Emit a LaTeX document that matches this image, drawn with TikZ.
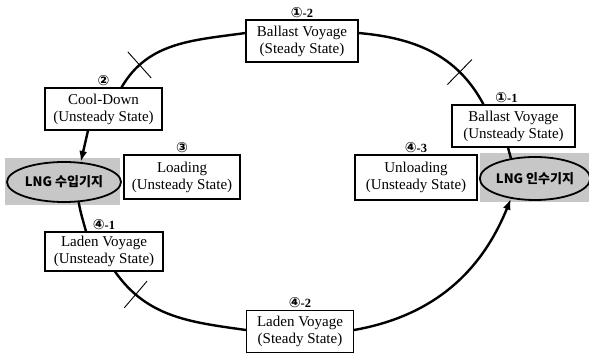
\documentclass[tikz,border=0pt]{standalone}
\usepackage{fontspec}
\setmainfont{Liberation Serif}
\newfontfamily\circfont{DejaVu Sans}
\newfontfamily\kfont{Noto Sans CJK KR}
\usetikzlibrary{positioning, shapes.geometric, arrows.meta}
\newcommand\cnum[1]{{\circfont\fontsize{14}{14}\selectfont #1}}
\tikzset{
  state/.style={draw, line width=1.1pt, fill=white, align=center, inner sep=0pt,
    font=\fontsize{15}{17}\selectfont, minimum height=42pt},
  num/.style={font=\fontsize{12.5}{13}\selectfont\bfseries, inner sep=1pt},
  base/.style={fill=black!22},
  port/.style={ellipse, draw, line width=1.8pt, fill=black!22, inner sep=0pt,
    font=\kfont\bfseries\fontsize{13}{15}\selectfont},
  route/.style={line width=2.4pt},
  tick/.style={sloped, draw, line width=0.9pt, inner sep=0pt, minimum width=0pt, minimum height=35pt}
}

\begin{document}
\begin{tikzpicture}[x=1pt, y=-1pt]
  \useasboundingbox (0,0) rectangle (589,355);
  \fill[base] (5,158) rectangle (120,205);
  \fill[base] (480,153) rectangle (589,202);

  \node[state, minimum width=112pt] (bs) at (302,41) {Ballast Voyage\\(Steady State)};
  \node[state, minimum width=117pt] (cool) at (103.5,109) {Cool-Down\\(Unsteady State)};
  \node[state, minimum width=116pt, minimum height=44pt] (load) at (182,177) {Loading\\(Unsteady State)};
  \node[state, minimum width=118pt, minimum height=39pt] (lu) at (104,251.5) {Laden Voyage\\(Unsteady State)};
  \node[state, minimum width=107pt] (ls) at (300,331.5) {Laden Voyage\\(Steady State)};
  \node[state, minimum width=122pt, minimum height=45pt] (unl) at (416,177.5) {Unloading\\(Unsteady State)};
  \node[state, minimum width=123pt] (bu) at (513.5,126) {Ballast Voyage\\(Unsteady State)};

  \node[port, minimum width=114pt, minimum height=40pt] (lport) at (64,182) {LNG 수입기지};
  \node[port, minimum width=106pt, minimum height=43pt] (rport) at (535,178.5) {LNG 인수기지};

  \node[num, above=1pt of bs] (n12) {\cnum{①}-2};
  \node[num, above=1pt of cool] (n2) {\cnum{②}};
  \node[num, above=1pt of load] (n3) {\cnum{③}};
  \node[num, above=1pt of lu] (n41) {\cnum{④}-1};
  \node[num, above=1pt of ls] (n42) {\cnum{④}-2};
  \node[num, above=1pt of unl] (n43) {\cnum{④}-3};
  \node[num, above=1pt of bu, xshift=-7pt] (n11) {\cnum{①}-1};

  \draw[route] ([xshift=18pt]cool.north) to[out=60, in=188] node[tick, pos=.2] {} ([yshift=8pt]bs.west);
  \draw[route] ([yshift=8pt]bs.east) to[out=-5, in=118] node[tick, pos=.74] {} ([xshift=-30pt]bu.north);
  \draw[route] ([xshift=-5.5pt]bu.south) -- (rport.140);
  \draw[route, -{Latex[length=11pt, width=8pt]}] ([yshift=1.5pt]ls.east) to[out=10, in=-112] (rport.-140);
  \draw[route] ([xshift=11pt]lu.south) to[out=-55, in=172] node[tick, pos=.2] {} ([yshift=1.5pt]ls.west);
  \draw[route] (lport.-54) to[out=-80, in=105] ([xshift=-18pt]lu.north);
  \draw[route, -{Latex[length=11pt, width=8pt]}] ([xshift=-15.5pt]cool.south) -- (lport.50);
\end{tikzpicture}
\end{document}
